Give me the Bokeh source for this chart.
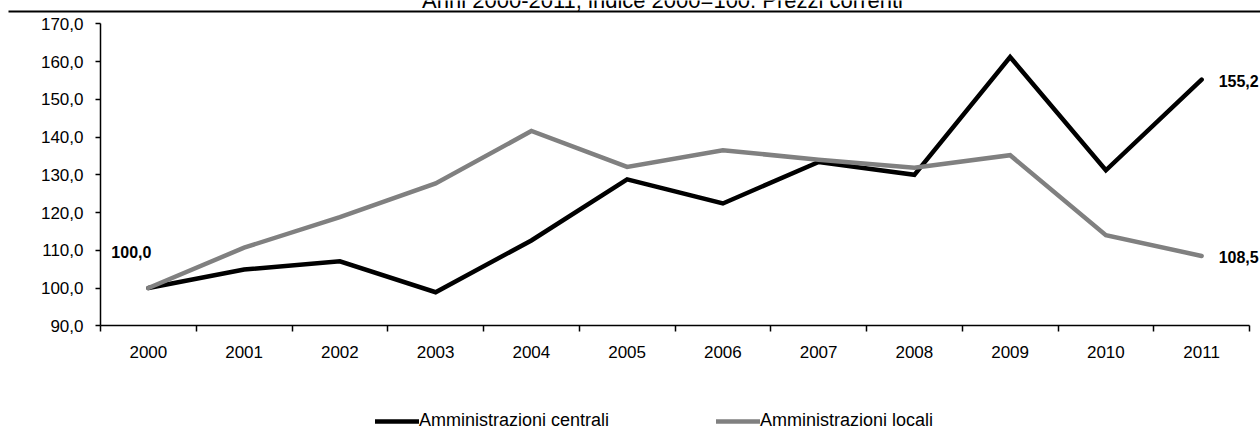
from bokeh.plotting import figure
from bokeh.models import Range1d, FixedTicker, Label, Legend, LegendItem
from bokeh.embed import file_html
from bokeh.resources import INLINE

# ---- data -------------------------------------------------------------
title_text = "Anni 2000-2011, indice 2000=100. Prezzi correnti"
years = ["2000", "2001", "2002", "2003", "2004", "2005",
         "2006", "2007", "2008", "2009", "2010", "2011"]
centrali = [100.0, 104.9, 107.1, 98.9, 112.6, 128.8,
            122.4, 133.4, 130.0, 161.2, 131.2, 155.2]
locali = [100.0, 110.7, 118.8, 127.7, 141.6, 132.1,
          136.5, 134.0, 131.9, 135.2, 114.0, 108.5]
y_ticks = [90, 100, 110, 120, 130, 140, 150, 160, 170]
series_names = ["Amministrazioni centrali", "Amministrazioni locali"]

FONT = "Liberation Sans"
BLACK = "#000000"
GREY = "#808080"

# ---- page geometry (pixels) ---------------------------------------------
W, H = 1260, 429
AX_LEFT, AX_RIGHT = 100, 1249      # x extent of the year slots
AX_TOP, AX_BOTTOM = 23.3, 325.3    # pixel rows of the top and bottom y ticks

n = len(years)
y_lo, y_hi = y_ticks[0], y_ticks[-1]


def x_at(px):
    """Data x for a horizontal pixel position (plot area spans the page)."""
    return (px - AX_LEFT) / (AX_RIGHT - AX_LEFT) * n


def y_at(py):
    """Data y for a vertical pixel position."""
    return y_hi - (py - AX_TOP) / (AX_BOTTOM - AX_TOP) * (y_hi - y_lo)


def it_num(v):
    """Italian decimal notation: 155.2 -> '155,2'."""
    return f"{v:.1f}".replace(".", ",")


# The plot area covers the whole page; axes sit at fixed positions inside it
p = figure(width=W, height=H,
           x_range=Range1d(x_at(0), x_at(W)), y_range=Range1d(y_at(H), y_at(0)),
           toolbar_location=None, output_backend="svg", min_border=0)
p.outline_line_color = None
p.grid.visible = False
p.background_fill_color = "white"
p.border_fill_color = "white"

# y axis
p.yaxis.fixed_location = 0
p.yaxis.bounds = (y_lo, y_hi)
p.yaxis.ticker = FixedTicker(ticks=y_ticks)
p.yaxis.major_label_overrides = {t: it_num(t) for t in y_ticks}
p.yaxis.major_tick_out = 5
p.yaxis.major_tick_in = 0
p.yaxis.minor_tick_out = 0
p.yaxis.minor_tick_in = 0
p.yaxis.major_label_standoff = 12
p.yaxis.major_label_text_font = FONT
p.yaxis.major_label_text_font_size = "17px"
p.yaxis.major_label_text_color = BLACK
p.yaxis.axis_line_color = BLACK
p.yaxis.axis_line_width = 1.5
p.yaxis.major_tick_line_width = 1.5

# x axis: year labels centred in each slot, tick marks on slot boundaries
xs = [i + 0.5 for i in range(n)]
p.xaxis.fixed_location = y_lo
p.xaxis.bounds = (0, n)
p.xaxis.ticker = FixedTicker(ticks=xs, minor_ticks=list(range(n + 1)))
p.xaxis.major_label_overrides = {x: y for x, y in zip(xs, years)}
p.xaxis.major_tick_out = 0
p.xaxis.major_tick_in = 0
p.xaxis.minor_tick_out = 6
p.xaxis.minor_tick_in = 0
p.xaxis.minor_tick_line_width = 1.5
p.xaxis.minor_tick_line_color = BLACK
p.xaxis.major_label_standoff = 14
p.xaxis.major_label_text_font = FONT
p.xaxis.major_label_text_font_size = "17px"
p.xaxis.major_label_text_color = BLACK
p.xaxis.axis_line_color = BLACK
p.xaxis.axis_line_width = 1.5

# header: title (its upper part runs off the page) and a rule beneath it
p.add_layout(Label(x=x_at(662), y=y_at(0), text=title_text, text_font=FONT,
                   text_font_size="22px", text_align="center",
                   text_baseline="alphabetic", text_color=BLACK))
p.segment(x0=[x_at(8)], y0=[y_at(11)], x1=[x_at(W)], y1=[y_at(11)],
          line_color=BLACK, line_width=2)

# series
r_c = p.line(xs, centrali, line_color=BLACK, line_width=4.5, line_join="miter", line_cap="round")
r_l = p.line(xs, locali, line_color=GREY, line_width=4.5, line_join="miter", line_cap="round")

# value labels at the ends of the series
label_style = dict(text_font=FONT, text_font_size="16px", text_font_style="bold",
                   text_color=BLACK, text_baseline="middle")
p.add_layout(Label(x=xs[0], y=centrali[0], text=it_num(centrali[0]), text_align="right",
                   x_offset=3, y_offset=36, **label_style))
p.add_layout(Label(x=xs[-1], y=centrali[-1], text=it_num(centrali[-1]), text_align="left",
                   x_offset=17, y_offset=-1, **label_style))
p.add_layout(Label(x=xs[-1], y=locali[-1], text=it_num(locali[-1]), text_align="left",
                   x_offset=17, y_offset=-1, **label_style))

# legend: one entry per series, along the bottom of the page
legend_style = dict(orientation="horizontal", padding=0, margin=0, spacing=0,
                    border_line_color=None, background_fill_alpha=0,
                    glyph_width=44, glyph_height=16, label_height=16, label_standoff=0,
                    label_text_font=FONT, label_text_font_size="18px",
                    label_text_color=BLACK)
p.add_layout(Legend(items=[LegendItem(label=series_names[0], renderers=[r_c])],
                    location=(375, -2), **legend_style))
p.add_layout(Legend(items=[LegendItem(label=series_names[1], renderers=[r_l])],
                    location=(716, -2), **legend_style))

open("out.html", "w").write(file_html(p, INLINE))
